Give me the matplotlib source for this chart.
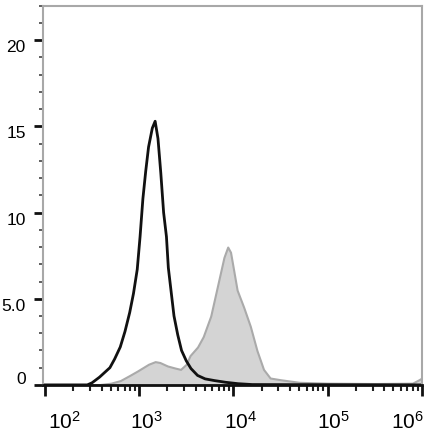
import numpy as np
import matplotlib
matplotlib.use('Agg')
import matplotlib.pyplot as plt
from matplotlib.transforms import ScaledTranslation

plt.rcParams['font.family'] = ['Liberation Sans', 'DejaVu Sans']

# isotype control (black line), log10 of intensity and % of max
ctrl_log = [2.0, 2.45, 2.50, 2.58, 2.64, 2.69, 2.74, 2.80, 2.85, 2.90, 2.94, 2.98,
            3.01, 3.04, 3.07, 3.10, 3.14, 3.17, 3.20, 3.23, 3.26, 3.29, 3.31, 3.34,
            3.37, 3.41, 3.45, 3.50, 3.55, 3.62, 3.70, 3.80, 3.92, 4.05, 4.2, 6.0]
ctrl_y = [0, 0, 0.12, 0.45, 0.75, 1.0, 1.5, 2.2, 3.1, 4.2, 5.3, 6.7,
          8.6, 10.8, 12.4, 13.8, 14.9, 15.3, 14.3, 12.3, 10.0, 8.6, 6.8, 5.4,
          4.0, 2.9, 2.0, 1.4, 0.95, 0.55, 0.35, 0.25, 0.15, 0.07, 0.02, 0]

# stained sample (grey filled)
stain_log = [2.0, 2.55, 2.7, 2.8, 2.9, 2.98, 3.04, 3.10, 3.17, 3.22, 3.30, 3.38,
             3.44, 3.50, 3.54, 3.62, 3.68, 3.76, 3.83, 3.90, 3.94, 3.97, 4.04,
             4.11, 4.18, 4.25, 4.32, 4.39, 4.5, 4.7, 5.0, 5.5, 5.9, 5.97, 6.0]
stain_y = [0, 0, 0.1, 0.25, 0.55, 0.8, 1.0, 1.2, 1.35, 1.3, 1.1, 0.98,
           0.9, 1.2, 1.7, 2.2, 2.8, 4.0, 5.7, 7.4, 8.0, 7.7, 5.5,
           4.5, 3.4, 2.0, 0.9, 0.4, 0.3, 0.15, 0.1, 0.08, 0.1, 0.3, 0.4]

ctrl_x = 10 ** np.array(ctrl_log)
stain_x = 10 ** np.array(stain_log)

decades = [1e2, 1e3, 1e4, 1e5, 1e6]
dec_labels = ['$\\mathregular{10^{2}}$', '$\\mathregular{10^{3}}$', '$\\mathregular{10^{4}}$',
              '$\\mathregular{10^{5}}$', '$\\mathregular{10^{6}}$']
yticks = [0, 5, 10, 15, 20]
ylabels = ['0', '5.0', '10', '15', '20']

fig = plt.figure(figsize=(4.3, 4.46), dpi=100)
ax = fig.add_axes([0.1, 0.137, 0.881, 0.850])

ax.fill_between(stain_x, stain_y, 0, color='#d4d4d4', edgecolor='#aaaaaa', linewidth=1.5)
ax.plot(ctrl_x, ctrl_y, color='#111111', linewidth=2)

ax.set_xscale('log')
ax.set_xlim(10 ** 1.98, 1e6)
ax.set_ylim(0, 22)

ax.set_xticks(decades)
ax.set_xticklabels(dec_labels, fontsize=15)
ax.set_yticks(yticks)
ax.set_yticklabels(ylabels, fontsize=12.5)
ax.set_yticks(np.arange(0, 23, 1), minor=True)

ax.tick_params(axis='x', which='major', length=8, width=2, color='#111111', pad=11)
ax.tick_params(axis='x', which='minor', length=4, width=1.5, color='#222222')
ax.tick_params(axis='y', which='major', length=6.5, width=2, color='#111111', pad=6)
ax.tick_params(axis='y', which='minor', length=3, width=1.2, color='#444444')

for s in ['left', 'top', 'right']:
    ax.spines[s].set_color('#a8a8a8')
    ax.spines[s].set_linewidth(1.5)
ax.spines['bottom'].set_color('#111111')
ax.spines['bottom'].set_linewidth(2)

# nudge labels like the original export
x_shift = [20, 7, 7, 6, -14]
for lab, dx in zip(ax.get_xticklabels(), x_shift):
    lab.set_transform(lab.get_transform() + ScaledTranslation(dx / 100, 0, fig.dpi_scale_trans))
y_shift = [7, -6, -6, -6, -6]
for lab, dy in zip(ax.get_yticklabels(), y_shift):
    lab.set_transform(lab.get_transform() + ScaledTranslation(0, dy / 100, fig.dpi_scale_trans))

fig.savefig('out.png', dpi=100)
